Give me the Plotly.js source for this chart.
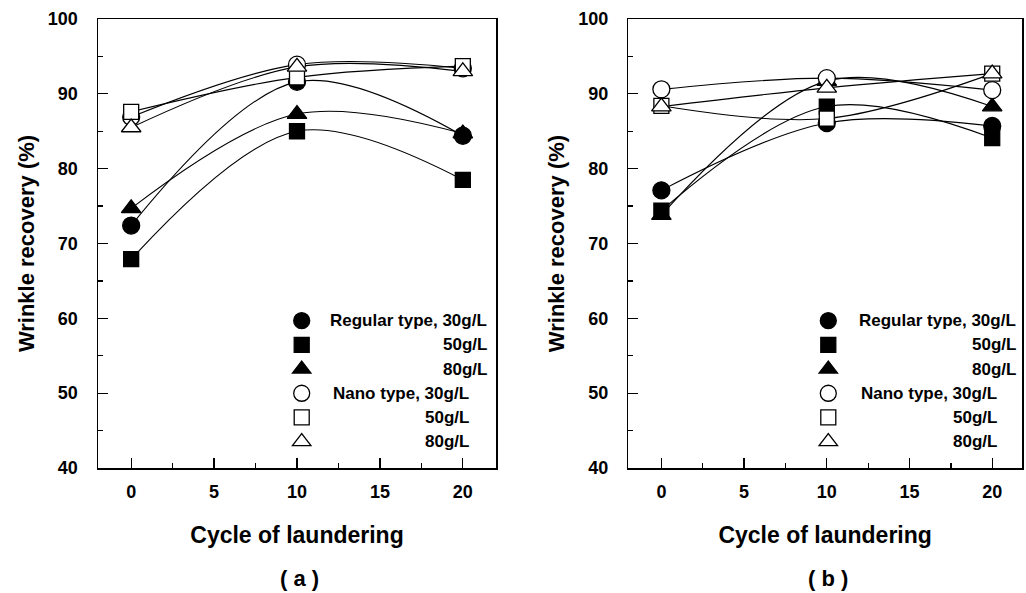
<!DOCTYPE html>
<html><head><meta charset="utf-8">
<script src="https://cdn.plot.ly/plotly-3.0.1.min.js"></script>
<style>html,body{margin:0;padding:0;background:#fff}#chart{width:1026px;height:593px}</style>
</head><body><div id="chart"></div>
<script>
// ---- data ----
const cycles = [0, 10, 20];
const legendLabels = ["Regular type, 30g/L", "50g/L", "80g/L", "Nano type, 30g/L", "50g/L", "80g/L"];
const seriesKeys = ["Regular 30g/L", "Regular 50g/L", "Regular 80g/L", "Nano 30g/L", "Nano 50g/L", "Nano 80g/L"];
// panel (a)
const aReg30  = [72.4, 91.6, 84.4];
const aReg50  = [67.9, 85.0, 78.5];
const aReg80  = [74.7, 87.3, 84.7];
const aNano30 = [86.9, 93.9, 93.4];
const aNano50 = [87.6, 92.2, 93.7];
const aNano80 = [85.5, 93.6, 93.0];
// panel (b)
const bReg30  = [77.1, 86.1, 85.7];
const bReg50  = [74.4, 88.3, 84.1];
const bReg80  = [73.8, 91.7, 88.3];
const bNano30 = [90.6, 92.1, 90.5];
const bNano50 = [88.4, 86.7, 92.7];
const bNano80 = [88.3, 90.8, 92.7];
const xTickVals = [0, 5, 10, 15, 20];
const yTickVals = [40, 50, 60, 70, 80, 90, 100];

// ---- styling ----
const FONT = "Liberation Sans, Arial, Helvetica, sans-serif";
const symbols = ["circle", "square", "triangle-up", "circle", "square", "triangle-up"];
const fills = ["#000", "#000", "#000", "#fff", "#fff", "#fff"];
const sizes = [17, 15, 17, 17, 15, 17];

const panelA = [aReg30, aReg50, aReg80, aNano30, aNano50, aNano80];
const panelB = [bReg30, bReg50, bReg80, bNano30, bNano50, bNano80];

const traces = [];
function addPanel(data, xa, ya, leg) {
  data.forEach((ys, i) => {
    traces.push({
      x: cycles, y: ys, xaxis: xa, yaxis: ya, type: "scatter", mode: "lines",
      line: {shape: "spline", smoothing: 1, color: "#000", width: 1.1},
      showlegend: false, hoverinfo: "skip", name: seriesKeys[i]
    });
  });
  data.forEach((ys, i) => {
    traces.push({
      x: cycles, y: ys, xaxis: xa, yaxis: ya, type: "scatter", mode: "markers",
      marker: {symbol: symbols[i], size: sizes[i], color: fills[i], line: {color: "#000", width: 1.3}},
      name: " ", legend: leg, showlegend: true
    });
  });
}
addPanel(panelA, "x", "y", "legend");
addPanel(panelB, "x2", "y2", "legend2");

const W = 1026, H = 593, ML = 98, MR = 4, MT = 19, MB = 125;
const PW = W - ML - MR, PH = H - MT - MB;
const px = v => (v - ML) / PW;
const py = v => 1 - (v - MT) / PH;

function xAx(domain, range) {
  return {
    domain: domain, range: range, tickmode: "array", tickvals: xTickVals,
    ticks: "inside", ticklen: 10, tickwidth: 1.3, tickcolor: "#000",
    minor: {dtick: 2.5, tick0: 0, ticks: "inside", ticklen: 5, tickwidth: 1.3, tickcolor: "#000"},
    showline: true, mirror: true, linecolor: "#000", linewidth: 1.5,
    showgrid: false, zeroline: false, ticklabelstandoff: 7,
    tickfont: {family: FONT, size: 18, color: "#000", weight: "bold"},
    title: {text: "Cycle of laundering", standoff: 26, font: {family: FONT, size: 23, color: "#000", weight: "bold"}}
  };
}
function yAx(anchor) {
  return {
    domain: [0, 1], range: [40, 100], anchor: anchor, tickmode: "array", tickvals: yTickVals,
    ticks: "inside", ticklen: 10, tickwidth: 1.3, tickcolor: "#000",
    minor: {dtick: 5, tick0: 0, ticks: "inside", ticklen: 5, tickwidth: 1.3, tickcolor: "#000"},
    showline: true, mirror: true, linecolor: "#000", linewidth: 1.5,
    showgrid: false, zeroline: false, ticklabelstandoff: 15,
    tickfont: {family: FONT, size: 18, color: "#000", weight: "bold"},
    title: {text: "Wrinkle recovery (%)", standoff: 7, font: {family: FONT, size: 22, color: "#000", weight: "bold"}}
  };
}

const legStyle = (x) => ({
  x: x, y: py(303.6), xanchor: "left", yanchor: "top", bgcolor: "rgba(0,0,0,0)",
  borderwidth: 0, font: {family: FONT, size: 16.3, color: "#000"}, itemwidth: 30,
  traceorder: "normal", itemclick: false, itemdoubleclick: false
});

const annotations = [];
const rowY = [320.7, 344.9, 369.1, 393.3, 417.5, 441.7];
function addLegendText(rightReg, rightNano) {
  legendLabels.forEach((t, i) => {
    annotations.push({
      xref: "paper", yref: "paper", x: px(i < 3 ? rightReg : rightNano), y: py(rowY[i]),
      xanchor: "right", yanchor: "middle", showarrow: false, text: t,
      font: {family: FONT, size: 17, color: "#000", weight: "bold"}
    });
  });
}
addLegendText(489, 471);
addLegendText(1018, 998.5);
annotations.push({xref: "paper", yref: "paper", x: px(299), y: py(578), xanchor: "center", yanchor: "middle",
  showarrow: false, text: "( a )", font: {family: FONT, size: 22, color: "#000", weight: "bold"}});
annotations.push({xref: "paper", yref: "paper", x: px(828), y: py(578), xanchor: "center", yanchor: "middle",
  showarrow: false, text: "( b )", font: {family: FONT, size: 22, color: "#000", weight: "bold"}});

const layout = {
  width: W, height: H, margin: {l: ML, r: MR, t: MT, b: MB},
  paper_bgcolor: "#fff", plot_bgcolor: "#fff",
  xaxis: xAx([0, px(496)], [-2, 22]),
  yaxis: yAx("x"),
  xaxis2: Object.assign(xAx([px(628.3), 1], [-2, 21.8]), {anchor: "y2"}),
  yaxis2: yAx("x2"),
  legend: legStyle(px(281.7)),
  legend2: legStyle(px(808.3)),
  annotations: annotations,
  showlegend: true
};
Plotly.newPlot("chart", traces, layout, {displayModeBar: false, staticPlot: true});
</script>
</body></html>
